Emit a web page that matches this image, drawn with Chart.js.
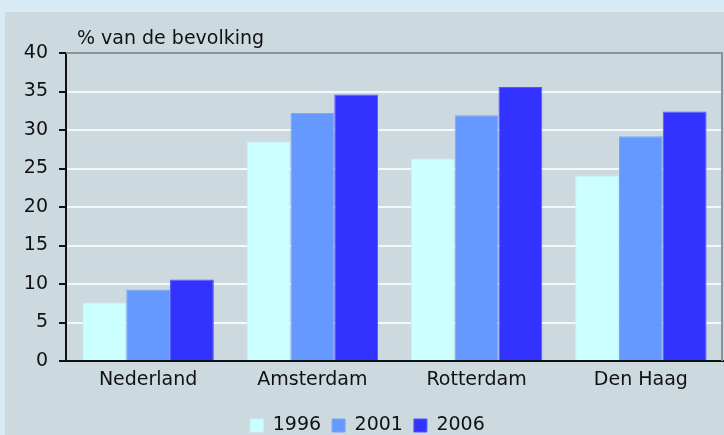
<!DOCTYPE html>
<html>
<head>
<meta charset="utf-8">
<script src="https://cdn.jsdelivr.net/npm/chart.js@4"></script>
<style>
  html, body { margin: 0; padding: 0; background: #d8eaf6; overflow: hidden; }
  #wrap { position: relative; width: 724px; height: 435px; }
</style>
</head>
<body>
<div id="wrap"><canvas id="chart" width="724" height="435"></canvas></div>
<script>
const categories = ['Nederland', 'Amsterdam', 'Rotterdam', 'Den Haag'];
const years = ['1996', '2001', '2006'];
const values1996 = [7.6, 28.5, 26.3, 24.1];
const values2001 = [9.3, 32.2, 31.9, 29.2];
const values2006 = [10.6, 34.6, 35.6, 32.4];
const yTicks = [0, 5, 10, 15, 20, 25, 30, 35, 40];
const axisTitle = '% van de bevolking';

const fillColors = ['#ccffff', '#6699ff', '#3333ff'];
const edgeColors = ['#c4f4f8', '#7aa6f8', '#5555ff'];
const FONT = '"DejaVu Sans", Verdana, sans-serif';
const TEXT = '#111111';

// panel background, top/right plot border and the axis title
const decor = {
  id: 'decor',
  beforeDraw(chart) {
    const ctx = chart.ctx;
    ctx.save();
    ctx.fillStyle = '#d8eaf6';
    ctx.fillRect(0, 0, chart.width, chart.height);
    ctx.fillStyle = '#ccdae0';
    ctx.fillRect(5, 12, chart.width - 5, chart.height - 12);
    ctx.restore();
  },
  afterDraw(chart) {
    const ctx = chart.ctx;
    const a = chart.chartArea;
    ctx.save();
    ctx.strokeStyle = '#8c9396';
    ctx.lineWidth = 2;
    ctx.beginPath();
    ctx.moveTo(a.left, a.top);
    ctx.lineTo(a.right - 1, a.top);
    ctx.lineTo(a.right - 1, a.bottom);
    ctx.stroke();
    ctx.fillStyle = TEXT;
    ctx.font = '19px ' + FONT;
    ctx.textBaseline = 'alphabetic';
    ctx.fillText(axisTitle, a.left + 11, a.top - 9);
    ctx.restore();
  }
};

const datasets = [values1996, values2001, values2006].map((vals, i) => ({
  label: years[i],
  data: vals,
  backgroundColor: fillColors[i],
  borderColor: edgeColors[i],
  borderWidth: 1,
  categoryPercentage: 0.8,
  barPercentage: 1.0
}));

new Chart(document.getElementById('chart'), {
  type: 'bar',
  data: { labels: categories, datasets: datasets },
  plugins: [decor],
  options: {
    responsive: false,
    animation: false,
    layout: { padding: { top: 53, right: 1, left: 12, bottom: -10 } },
    plugins: {
      tooltip: { enabled: false },
      legend: {
        position: 'bottom',
        labels: {
          boxWidth: 13,
          boxHeight: 13,
          padding: 11,
          color: TEXT,
          font: { family: FONT, size: 19 }
        }
      }
    },
    scales: {
      x: {
        afterFit(scale) { scale.height = 44; },
        grid: { display: false },
        border: { display: true, color: '#111', width: 2 },
        ticks: { color: TEXT, padding: 0, font: { family: FONT, size: 19 } }
      },
      y: {
        min: 0,
        max: 40,
        afterFit(scale) { scale.width = 54; },
        afterBuildTicks(scale) { scale.ticks = yTicks.map(v => ({ value: v })); },
        grid: {
          color: ctx => (ctx.tick && ctx.tick.value === 40) ? '#8c9396' : '#f4f8fa',
          lineWidth: 2,
          tickColor: '#111',
          tickLength: 7,
          tickWidth: 2
        },
        border: { display: true, color: '#111', width: 2 },
        ticks: { color: TEXT, padding: 11, font: { family: FONT, size: 19 } }
      }
    }
  }
});
</script>
</body>
</html>
